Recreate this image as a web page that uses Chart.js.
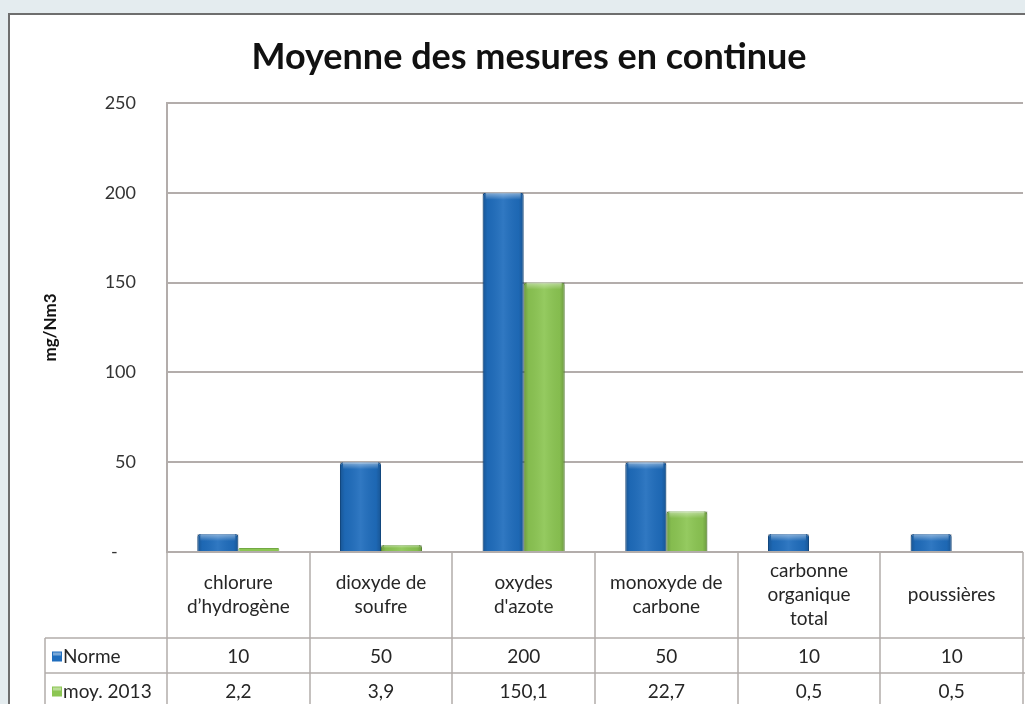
<!DOCTYPE html>
<html lang="fr">
<head>
<meta charset="utf-8">
<title>Moyenne des mesures en continue</title>
<script src="https://cdn.jsdelivr.net/npm/chart.js@4.4.0/dist/chart.umd.min.js"></script>
<style>
  html, body { margin: 0; padding: 0; background: #fff; }
  #wrap { position: relative; width: 1025px; height: 704px; overflow: hidden; }
</style>
</head>
<body>
<div id="wrap"><canvas id="chart" width="1025" height="704"></canvas></div>
<script>
// données
const categories = [
  ['chlorure', 'd\u2019hydrogène'],
  ['dioxyde de', 'soufre'],
  ['oxydes', "d'azote"],
  ['monoxyde de', 'carbone'],
  ['carbonne', 'organique', 'total'],
  ['poussières']
];
const seriesNames = ['Norme', 'moy. 2013'];
const norme = [10, 50, 200, 50, 10, 10];
const moy2013 = [2.2, 3.9, 150.1, 22.7, 0.5, 0.5];
const yTicks = [0, 50, 100, 150, 200, 250];

const FONT = 'Lato, "Open Sans", sans-serif';
const BLUE = '#1f6dbd';
const GREEN = '#8cc653';
const LINE = '#b3adab';

const fmt = v => String(v).replace('.', ',');

// fond + cadre
const framePlugin = {
  id: 'frame',
  beforeDraw(chart) {
    const ctx = chart.ctx;
    ctx.save();
    ctx.fillStyle = '#e4ecef';
    ctx.fillRect(0, 0, chart.width, chart.height);
    ctx.fillStyle = '#ffffff';
    ctx.fillRect(9, 14, chart.width, chart.height);
    ctx.strokeStyle = '#6e6e6e';
    ctx.lineWidth = 2;
    ctx.beginPath();
    ctx.moveTo(9, chart.height);
    ctx.lineTo(9, 14);
    ctx.lineTo(chart.width, 14);
    ctx.stroke();
    ctx.restore();
  },
  afterDraw(chart) {
    const ctx = chart.ctx;
    ctx.save();
    ctx.fillStyle = '#111';
    ctx.font = 'bold 36px ' + FONT;
    ctx.textAlign = 'center';
    ctx.textBaseline = 'middle';
    ctx.fillText('Moyenne des mesures en continue', 529, 57);
    ctx.restore();
  }
};

// petit effet de relief sur les barres
const bevelPlugin = {
  id: 'bevel',
  afterDatasetsDraw(chart) {
    const ctx = chart.ctx;
    ctx.save();
    chart.data.datasets.forEach((ds, i) => {
      chart.getDatasetMeta(i).data.forEach(bar => {
        const left = bar.x - bar.width / 2;
        const h = bar.base - bar.y;
        if (h < 3) return;
        const g = ctx.createLinearGradient(left, 0, left + bar.width, 0);
        g.addColorStop(0, 'rgba(0,0,0,0.22)');
        g.addColorStop(0.12, 'rgba(0,0,0,0.05)');
        g.addColorStop(0.5, 'rgba(255,255,255,0.08)');
        g.addColorStop(0.88, 'rgba(0,0,0,0.05)');
        g.addColorStop(1, 'rgba(0,0,0,0.22)');
        ctx.fillStyle = g;
        ctx.fillRect(left, bar.y, bar.width, h);
        const cap = Math.min(7, h / 2);
        const t = ctx.createLinearGradient(0, bar.y, 0, bar.y + cap);
        t.addColorStop(0, 'rgba(255,255,255,0.45)');
        t.addColorStop(1, 'rgba(255,255,255,0)');
        ctx.fillStyle = t;
        ctx.fillRect(left + 3, bar.y, bar.width - 6, cap);
      });
    });
    ctx.restore();
  }
};

// tableau de données sous le graphique
const tablePlugin = {
  id: 'dataTable',
  afterDraw(chart) {
    const ctx = chart.ctx;
    const x = chart.scales.x;
    const area = chart.chartArea;
    const colW = (area.right - area.left) / categories.length;
    const rowTop = area.bottom;
    const row1 = 638, row2 = 673, bottom = chart.height;
    const tableLeft = 45;

    ctx.save();
    ctx.strokeStyle = LINE;
    ctx.lineWidth = 1.5;
    ctx.beginPath();
    for (let i = 0; i <= categories.length; i++) {
      const px = Math.round(x.getPixelForValue(i) - colW / 2);
      ctx.moveTo(px, rowTop);
      ctx.lineTo(px, bottom);
    }
    ctx.moveTo(tableLeft, row1);
    ctx.lineTo(tableLeft, bottom);
    ctx.moveTo(tableLeft, row1);
    ctx.lineTo(chart.width, row1);
    ctx.moveTo(tableLeft, row2);
    ctx.lineTo(chart.width, row2);
    ctx.stroke();

    ctx.fillStyle = '#262626';
    ctx.font = '19px ' + FONT;
    ctx.textAlign = 'center';
    ctx.textBaseline = 'middle';
    const midCat = (rowTop + row1) / 2;
    categories.forEach((lines, i) => {
      const cx = x.getPixelForValue(i);
      const lh = 24;
      const y0 = midCat - (lines.length - 1) * lh / 2;
      lines.forEach((l, k) => ctx.fillText(l, cx, y0 + k * lh));
      ctx.fillText(fmt(norme[i]), cx, (row1 + row2) / 2 + 1);
      ctx.fillText(fmt(moy2013[i]), cx, (row2 + bottom) / 2 + 3);
    });

    // clés de légende
    const rows = [(row1 + row2) / 2 + 1, (row2 + bottom) / 2 + 3];
    [BLUE, GREEN].forEach((c, i) => {
      ctx.fillStyle = c;
      ctx.fillRect(52, rows[i] - 5, 10, 10);
      ctx.fillStyle = 'rgba(255,255,255,0.4)';
      ctx.fillRect(53, rows[i] - 4, 8, 3);
      ctx.fillStyle = '#262626';
      ctx.textAlign = 'left';
      ctx.fillText(seriesNames[i], 63, rows[i]);
    });
    ctx.restore();
  }
};

new Chart(document.getElementById('chart'), {
  type: 'bar',
  data: {
    labels: categories,
    datasets: [
      { label: seriesNames[0], data: norme, backgroundColor: BLUE, borderColor: '#17599e', borderWidth: 1, borderSkipped: 'bottom', borderRadius: 3 },
      { label: seriesNames[1], data: moy2013, backgroundColor: GREEN, borderColor: '#72a943', borderWidth: 1, borderSkipped: 'bottom', borderRadius: 3 }
    ]
  },
  options: {
    responsive: false,
    animation: false,
    devicePixelRatio: 1,
    layout: { padding: { left: 0, top: 103, right: 2, bottom: 152 } },
    plugins: {
      legend: { display: false },
      title: { display: false },
      tooltip: { enabled: false }
    },
    datasets: { bar: { categoryPercentage: 0.575, barPercentage: 1 } },
    scales: {
      x: { display: false },
      y: {
        min: 0,
        max: 250,
        afterFit(scale) { scale.width = 167; },
        afterBuildTicks(scale) { scale.ticks = yTicks.map(v => ({ value: v })); },
        grid: { color: LINE, lineWidth: 2, drawTicks: false },
        border: { display: true, color: LINE, width: 2 },
        ticks: {
          padding: 31,
          color: '#333',
          font: { family: FONT, size: 18 },
          callback: v => v === 0 ? '-    ' : String(v)
        },
        title: {
          display: true,
          text: 'mg/Nm3',
          color: '#111',
          font: { family: FONT, size: 17, weight: 'bold' },
          padding: { top: 40, bottom: 0 }
        }
      }
    }
  },
  plugins: [framePlugin, bevelPlugin, tablePlugin]
});
</script>
</body>
</html>
